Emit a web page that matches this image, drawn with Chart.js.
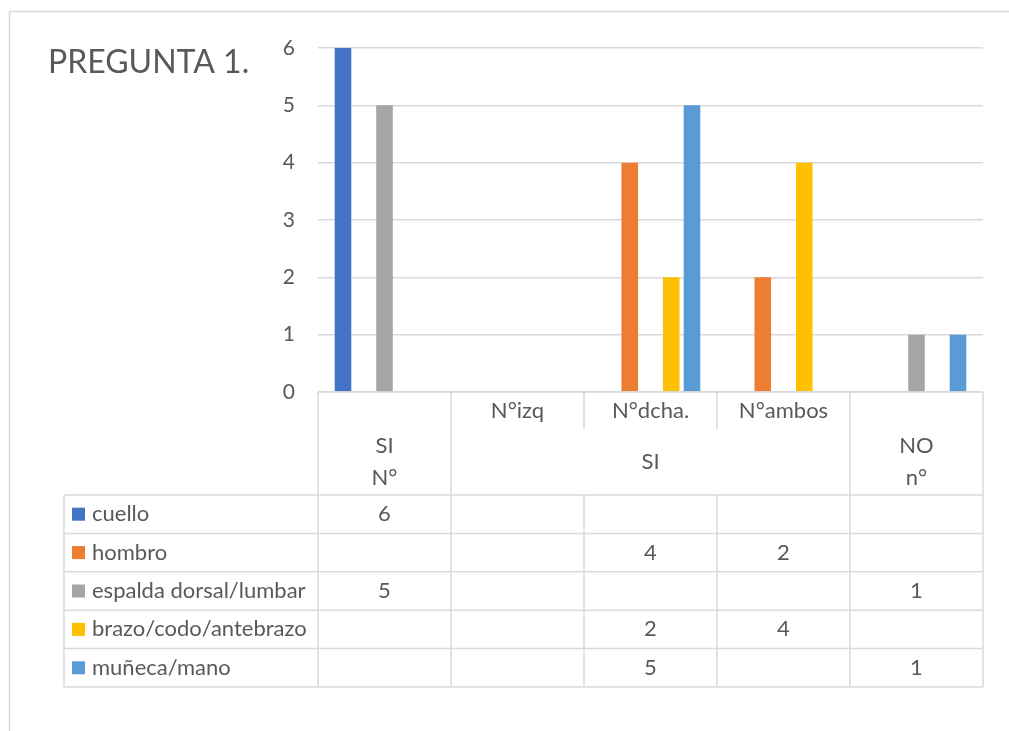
<!DOCTYPE html>
<html>
<head>
<meta charset="utf-8">
<script src="https://cdn.jsdelivr.net/npm/chart.js@4"></script>
<style>
  body { margin: 0; background: #fff; overflow: hidden; }
  canvas { display: block; }
</style>
</head>
<body>
<canvas id="chart" width="1009" height="731"></canvas>
<script>
// categories of the x axis (lower level) and their grouping (upper level)
const subLabels = ['', 'N°izq', 'N°dcha.', 'N°ambos', ''];
const groupLabels = [['SI', 'N°'], ['SI'], ['NO', 'n°']];
const groupSpans = [1, 3, 1];

// one series per body part, blanks are null
const seriesNames = ['cuello', 'hombro', 'espalda dorsal/lumbar', 'brazo/codo/antebrazo', 'muñeca/mano'];
const cuello = [6, null, null, null, null];
const hombro = [null, null, 4, 2, null];
const espalda = [5, null, null, null, 1];
const brazo = [null, null, 2, 4, null];
const muneca = [null, null, 5, null, 1];
const seriesColors = ['#4472C4', '#ED7D31', '#A5A5A5', '#FFC000', '#5B9BD5'];

const yTicks = [0, 1, 2, 3, 4, 5, 6];

const FONT = 'Lato';
const TEXT = '#595959';
const LINE = '#D9D9D9';
const FONT_SIZE = 22;

const values = [cuello, hombro, espalda, brazo, muneca];

// frame, title and the data table under the plot
const tablePlugin = {
  id: 'dataTable',
  afterDraw(chart) {
    const ctx = chart.ctx;
    const xs = chart.scales.x;
    const area = chart.chartArea;
    const n = subLabels.length;
    const colW = (xs.right - xs.left) / n;
    const colLeft = i => xs.getPixelForValue(i) - colW / 2;
    const tableLeft = 64;
    const top = area.bottom;
    const hdr1 = top + 37;
    const hdr2 = hdr1 + 66;
    const rowH = 38.4;

    ctx.save();
    // chart frame
    ctx.strokeStyle = LINE;
    ctx.lineWidth = 1.5;
    ctx.strokeRect(9.5, 11.5, 1040, 760);

    // title
    ctx.fillStyle = TEXT;
    ctx.font = '32px ' + FONT;
    ctx.textAlign = 'left';
    ctx.textBaseline = 'alphabetic';
    ctx.fillText('PREGUNTA 1.', 48, 73);

    ctx.strokeStyle = LINE;
    ctx.lineWidth = 1.5;
    const line = (x1, y1, x2, y2) => {
      ctx.beginPath();
      ctx.moveTo(x1, y1);
      ctx.lineTo(x2, y2);
      ctx.stroke();
    };

    // category header
    line(xs.left, top, xs.right, top);
    let g = 0;
    groupSpans.forEach(span => {
      line(colLeft(g), top, colLeft(g), hdr2);
      for (let k = 1; k < span; k++) line(colLeft(g + k), top, colLeft(g + k), hdr1);
      g += span;
    });
    line(xs.right, top, xs.right, hdr2);

    ctx.font = FONT_SIZE + 'px ' + FONT;
    ctx.textAlign = 'center';
    ctx.textBaseline = 'middle';
    subLabels.forEach((s, i) => {
      if (s) ctx.fillText(s, xs.getPixelForValue(i), (top + hdr1) / 2);
    });
    g = 0;
    groupLabels.forEach((lines, j) => {
      const cx = (colLeft(g) + colLeft(g) + colW * groupSpans[j]) / 2;
      const cy = (hdr1 + hdr2) / 2;
      lines.forEach((t, k) => {
        ctx.fillText(t, cx, cy + (k - (lines.length - 1) / 2) * 32);
      });
      g += groupSpans[j];
    });

    // body rows
    const bottom = hdr2 + rowH * seriesNames.length;
    for (let r = 0; r <= seriesNames.length; r++) {
      line(tableLeft, hdr2 + r * rowH, xs.right, hdr2 + r * rowH);
    }
    line(tableLeft, hdr2, tableLeft, bottom);
    for (let i = 0; i <= n; i++) {
      const x = i < n ? colLeft(i) : xs.right;
      line(x, hdr2, x, bottom);
    }

    seriesNames.forEach((name, r) => {
      const cy = hdr2 + rowH * (r + 0.5);
      ctx.fillStyle = seriesColors[r];
      ctx.fillRect(72, cy - 6.5, 13, 13);
      ctx.fillStyle = TEXT;
      ctx.textAlign = 'left';
      ctx.fillText(name, 92, cy);
      ctx.textAlign = 'center';
      values[r].forEach((v, i) => {
        if (v !== null) ctx.fillText(String(v), xs.getPixelForValue(i), cy);
      });
    });
    ctx.restore();
  }
};

document.fonts.load(FONT_SIZE + 'px ' + FONT).then(() => {
  new Chart(document.getElementById('chart'), {
    type: 'bar',
    data: {
      labels: subLabels.map((s, i) => s || String(i)),
      datasets: seriesNames.map((name, r) => ({
        label: name,
        data: values[r],
        backgroundColor: seriesColors[r],
        borderWidth: 0,
        categoryPercentage: 0.78,
        barPercentage: 0.8
      }))
    },
    options: {
      responsive: false,
      devicePixelRatio: 1,
      animation: false,
      layout: { padding: { left: 0, top: 48, right: 26, bottom: 331 } },
      plugins: {
        legend: { display: false },
        tooltip: { enabled: false },
        title: { display: false }
      },
      scales: {
        x: {
          ticks: { display: false },
          grid: { display: false },
          border: { display: false }
        },
        y: {
          min: yTicks[0],
          max: yTicks[yTicks.length - 1],
          afterBuildTicks(scale) {
            scale.ticks = yTicks.map(v => ({ value: v }));
          },
          afterFit(scale) {
            scale.width = 318;
          },
          ticks: {
            padding: 23,
            color: TEXT,
            font: { family: FONT, size: 21 }
          },
          grid: { color: LINE, lineWidth: 1.5, drawTicks: false },
          border: { display: false }
        }
      }
    },
    plugins: [tablePlugin]
  });
});
</script>
</body>
</html>
